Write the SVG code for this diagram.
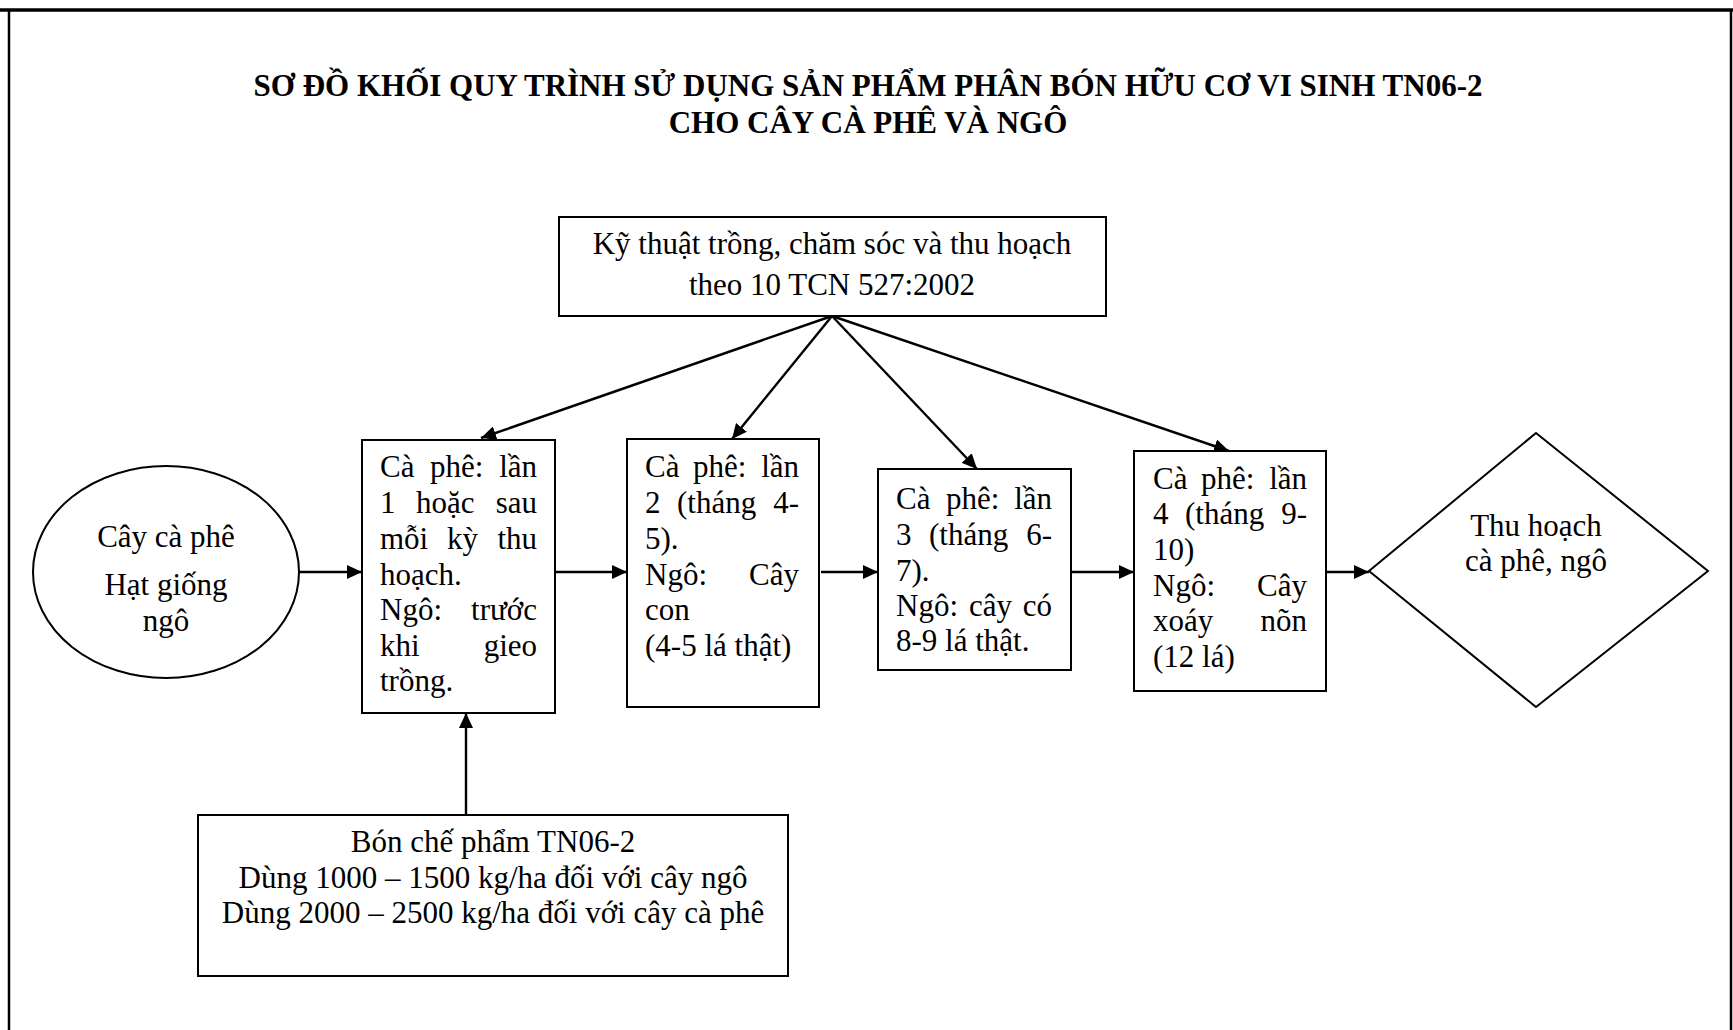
<svg xmlns="http://www.w3.org/2000/svg" width="1733" height="1030" viewBox="0 0 1733 1030">
<style>
text{font-family:"Liberation Serif","Times New Roman",serif;font-size:31px;fill:#000}
.t{font-weight:bold;text-anchor:middle}
.c{text-anchor:middle}
.e{text-anchor:end}
.b{fill:#fff;stroke:#000;stroke-width:2}
.ln{stroke:#000;stroke-width:2.4;fill:none}
</style>
<defs>
<marker id="ah" markerUnits="userSpaceOnUse" markerWidth="16" markerHeight="14" refX="15" refY="7" orient="auto">
<path d="M0,0 L15,7 L0,14 z" fill="#000"/>
</marker>
</defs>
<rect width="1733" height="1030" fill="#fff"/>
<g id="border">
<line x1="0" y1="10" x2="1733" y2="10" stroke="#000" stroke-width="3.5"/>
<line x1="9" y1="10" x2="9" y2="1030" stroke="#000" stroke-width="2.5"/>
<line x1="1731" y1="10" x2="1731" y2="1030" stroke="#000" stroke-width="2.5"/>
</g>
<g id="title">
<text class="t" x="868" y="96">SƠ ĐỒ KHỐI QUY TRÌNH SỬ DỤNG SẢN PHẨM PHÂN BÓN HỮU CƠ VI SINH TN06-2</text>
<text class="t" x="868" y="133">CHO CÂY CÀ PHÊ VÀ NGÔ</text>
</g>
<g id="connectors">
<line class="ln" x1="298" y1="572" x2="362" y2="572" marker-end="url(#ah)"/>
<line class="ln" x1="555" y1="572" x2="627" y2="572" marker-end="url(#ah)"/>
<line class="ln" x1="821" y1="572" x2="878" y2="572" marker-end="url(#ah)"/>
<line class="ln" x1="1071" y1="572" x2="1134" y2="572" marker-end="url(#ah)"/>
<line class="ln" x1="1326" y1="572" x2="1369" y2="572" marker-end="url(#ah)"/>
<line class="ln" x1="466" y1="815" x2="466" y2="713" marker-end="url(#ah)"/>
<line class="ln" x1="832" y1="316" x2="481" y2="438" marker-end="url(#ah)"/>
<line class="ln" x1="832" y1="316" x2="732" y2="439" marker-end="url(#ah)"/>
<line class="ln" x1="832" y1="316" x2="977" y2="469" marker-end="url(#ah)"/>
<line class="ln" x1="832" y1="316" x2="1229" y2="451" marker-end="url(#ah)"/>
</g>
<g id="node-top">
<rect class="b" x="559" y="217" width="547" height="99"/>
<text class="c" x="832" y="254">Kỹ thuật trồng, chăm sóc và thu hoạch</text>
<text class="c" x="832" y="295">theo 10 TCN 527:2002</text>
</g>
<g id="node-start">
<ellipse class="b" cx="166" cy="572" rx="133" ry="106"/>
<text class="c" x="166" y="547">Cây cà phê</text>
<text class="c" x="166" y="595">Hạt giống</text>
<text class="c" x="166" y="631">ngô</text>
</g>
<g id="node-1">
<rect class="b" x="362" y="440" width="193" height="273"/>
<text x="380" y="477">Cà</text><text x="430" y="477">phê:</text><text class="e" x="537" y="477">lần</text>
<text x="380" y="513">1</text><text x="416" y="513">hoặc</text><text class="e" x="537" y="513">sau</text>
<text x="380" y="549">mỗi</text><text x="447" y="549">kỳ</text><text class="e" x="537" y="549">thu</text>
<text x="380" y="585">hoạch.</text>
<text x="380" y="620">Ngô:</text><text class="e" x="537" y="620">trước</text>
<text x="380" y="656">khi</text><text class="e" x="537" y="656">gieo</text>
<text x="380" y="691">trồng.</text>
</g>
<g id="node-2">
<rect class="b" x="627" y="439" width="192" height="268"/>
<text x="645" y="477">Cà</text><text x="693" y="477">phê:</text><text class="e" x="799" y="477">lần</text>
<text x="645" y="513">2</text><text x="677" y="513">(tháng</text><text class="e" x="799" y="513">4-</text>
<text x="645" y="549">5).</text>
<text x="645" y="585">Ngô:</text><text class="e" x="799" y="585">Cây</text>
<text x="645" y="620">con</text>
<text x="645" y="656">(4-5 lá thật)</text>
</g>
<g id="node-3">
<rect class="b" x="878" y="469" width="193" height="201"/>
<text x="896" y="509">Cà</text><text x="946" y="509">phê:</text><text class="e" x="1052" y="509">lần</text>
<text x="896" y="545">3</text><text x="929" y="545">(tháng</text><text class="e" x="1052" y="545">6-</text>
<text x="896" y="581">7).</text>
<text x="896" y="616">Ngô:</text><text x="969" y="616">cây</text><text class="e" x="1052" y="616">có</text>
<text x="896" y="651">8-9 lá thật.</text>
</g>
<g id="node-4">
<rect class="b" x="1134" y="451" width="192" height="240"/>
<text x="1153" y="489">Cà</text><text x="1201" y="489">phê:</text><text class="e" x="1307" y="489">lần</text>
<text x="1153" y="524">4</text><text x="1185" y="524">(tháng</text><text class="e" x="1307" y="524">9-</text>
<text x="1153" y="560">10)</text>
<text x="1153" y="596">Ngô:</text><text class="e" x="1307" y="596">Cây</text>
<text x="1153" y="631">xoáy</text><text class="e" x="1307" y="631">nõn</text>
<text x="1153" y="667">(12 lá)</text>
</g>
<g id="node-end">
<polygon class="b" points="1369,571 1536,433 1708,571 1536,707"/>
<text class="c" x="1536" y="536">Thu hoạch</text>
<text class="c" x="1536" y="571">cà phê, ngô</text>
</g>
<g id="node-bottom">
<rect class="b" x="198" y="815" width="590" height="161"/>
<text class="c" x="493" y="852">Bón chế phẩm TN06-2</text>
<text class="c" x="493" y="888">Dùng 1000 – 1500 kg/ha đối với cây ngô</text>
<text class="c" x="493" y="923">Dùng 2000 – 2500 kg/ha đối với cây cà phê</text>
</g>
</svg>
